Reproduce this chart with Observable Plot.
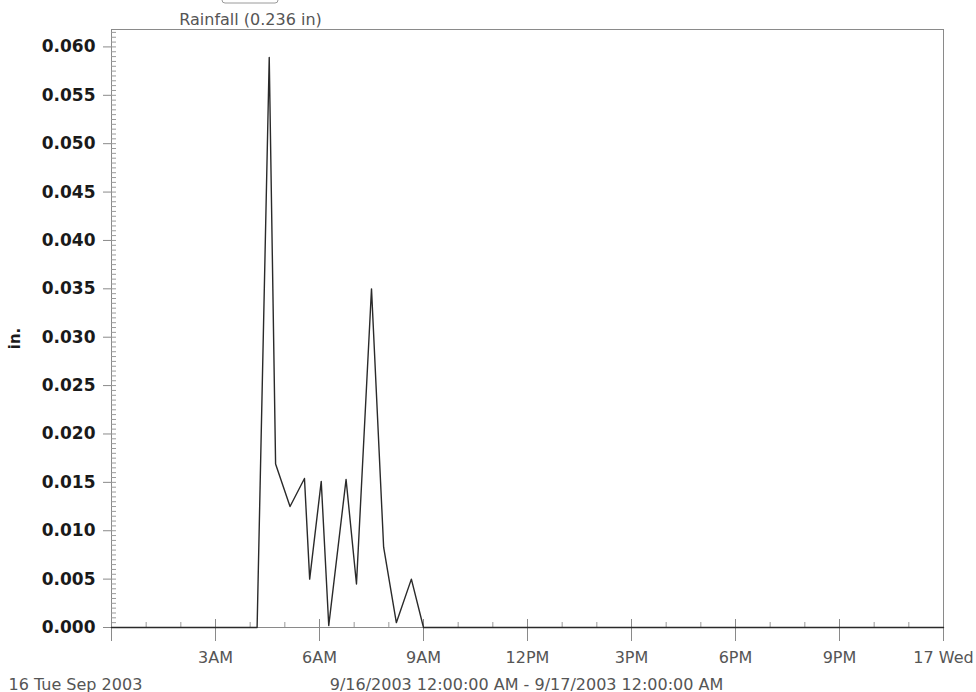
<!DOCTYPE html>
<html>
<head>
<meta charset="utf-8">
<script src="https://cdn.jsdelivr.net/npm/d3@7"></script>
<script src="https://cdn.jsdelivr.net/npm/@observablehq/plot@0.6"></script>
<style>
  html, body { margin: 0; padding: 0; background: #ffffff; }
  #chart { width: 976px; height: 692px; overflow: hidden; }
</style>
</head>
<body>
<div id="chart"></div>
<script>
// ---- data ----
const times = ["00:00","04:12","04:33","04:44","05:09","05:34","05:43","06:03","06:16","06:46","07:04","07:30","07:51","08:13","08:39","09:00","24:00"];
const rainfall = [0, 0, 0.0589, 0.0169, 0.0125, 0.0154, 0.0050, 0.0151, 0.0002, 0.0153, 0.0045, 0.0350, 0.0083, 0.0005, 0.0050, 0, 0];

const yTicks = [0, 0.005, 0.010, 0.015, 0.020, 0.025, 0.030, 0.035, 0.040, 0.045, 0.050, 0.055, 0.060];
const xTickHours = [0, 3, 6, 9, 12, 15, 18, 21, 24];
const xTickLabels = ["", "3AM", "6AM", "9AM", "12PM", "3PM", "6PM", "9PM", "17 Wed"];
const xMinorHours = d3.range(1, 24);
const yMinor = d3.range(0, 0.0616, 0.0005);

const legendLabel = "Rainfall (0.236 in)";
const yLabel = "in.";
const dateLabel = "16 Tue Sep 2003";
const rangeLabel = "9/16/2003 12:00:00 AM - 9/17/2003 12:00:00 AM";

// ---- build table ----
const toHours = t => { const [h, m] = t.split(":").map(Number); return h + m / 60; };
const data = times.map((t, i) => ({ h: toHours(t), v: rainfall[i] }));
const labelFor = h => xTickLabels[xTickHours.indexOf(h)];

const axisGray = "#8a8a8a";
const textGray = "#555555";

const chart = Plot.plot({
  width: 976,
  height: 692,
  marginLeft: 111,
  marginRight: 33,
  marginTop: 29,
  marginBottom: 65,
  style: { fontFamily: "DejaVu Sans", background: "#ffffff", overflow: "visible" },
  x: { domain: [0, 24], label: null },
  y: { domain: [0, 0.0618], label: null },
  marks: [
    Plot.frame({ stroke: axisGray, strokeWidth: 1 }),
    // y minor ticks (inside)
    Plot.axisY(yMinor, { anchor: "left", label: null, tickSize: 5, dx: 5, tickFormat: () => "", stroke: "#9a9a9a" }),
    // y major ticks + labels
    Plot.axisY(yTicks, {
      anchor: "left", label: null, tickSize: 8, tickPadding: 8,
      tickFormat: d3.format(".3f"),
      fontSize: 17, fontWeight: "bold", fill: "#1a1a1a", stroke: axisGray
    }),
    // x minor ticks (inside, upward)
    Plot.axisX(xMinorHours, { anchor: "bottom", label: null, tickSize: 5, dy: -5, tickFormat: () => "", stroke: "#9a9a9a" }),
    // x major ticks crossing the baseline + labels
    Plot.axisX(xTickHours, {
      anchor: "bottom", label: null, tickSize: 22, dy: -8, tickPadding: 10,
      tickFormat: labelFor,
      fontSize: 16, fill: textGray, stroke: axisGray
    }),
    // data line
    Plot.line(data, { x: "h", y: "v", stroke: "#2a2a2a", strokeWidth: 1.4, curve: "linear" }),
    // texts
    Plot.text([legendLabel], { frameAnchor: "top-left", dx: 139, dy: -5, textAnchor: "middle", lineAnchor: "bottom", fontSize: 16, fill: textGray }),
    Plot.text([yLabel], { frameAnchor: "left", dx: -96, dy: 10, rotate: -90, textAnchor: "middle", lineAnchor: "middle", fontSize: 15, fontWeight: "bold", fill: "#1a1a1a" }),
    Plot.text([dateLabel], { frameAnchor: "bottom-left", dx: -103, dy: 62, textAnchor: "start", lineAnchor: "bottom", fontSize: 16, fill: textGray }),
    Plot.text([rangeLabel], { frameAnchor: "bottom", dx: -1, dy: 62, textAnchor: "middle", lineAnchor: "bottom", fontSize: 16, fill: textGray })
  ]
});

// legend swatch box (cut off at the top, as in the reference)
d3.select(chart).append("rect")
  .attr("x", 222).attr("y", -8).attr("width", 56).attr("height", 11)
  .attr("rx", 3).attr("fill", "none").attr("stroke", "#9a9a9a");

document.getElementById("chart").appendChild(chart);
</script>
</body>
</html>
